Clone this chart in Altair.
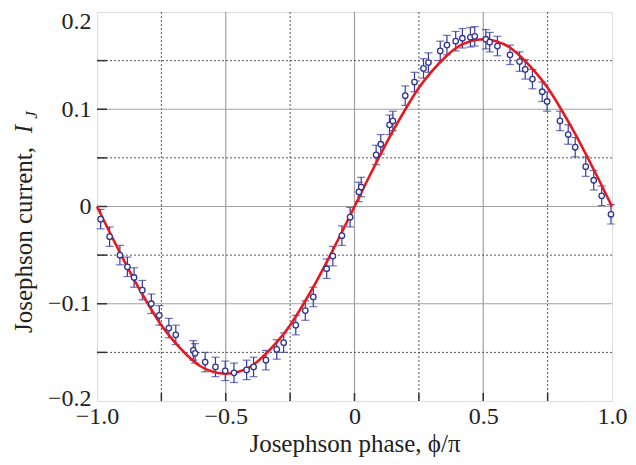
import altair as alt
import pandas as pd

# ---- data ----
phase = [-0.986, -0.951, -0.911, -0.882, -0.856, -0.824, -0.789, -0.758, -0.721, -0.694,
         -0.626, -0.619, -0.580, -0.540, -0.502, -0.468, -0.419, -0.392, -0.344, -0.302,
         -0.275, -0.228, -0.191, -0.160, -0.108, -0.084, -0.049, -0.017, 0.017, 0.026,
         0.084, 0.102, 0.136, 0.149, 0.197, 0.233, 0.268, 0.287, 0.333, 0.359,
         0.393, 0.419, 0.450, 0.467, 0.510, 0.525, 0.555, 0.604, 0.641, 0.663,
         0.691, 0.729, 0.748, 0.798, 0.830, 0.857, 0.898, 0.929, 0.960, 0.996]
current = [-0.013, -0.031, -0.050, -0.062, -0.073, -0.086, -0.100, -0.112, -0.125, -0.132,
           -0.148, -0.151, -0.160, -0.165, -0.169, -0.171, -0.168, -0.165, -0.158, -0.147,
           -0.140, -0.122, -0.107, -0.093, -0.064, -0.051, -0.030, -0.011, 0.015, 0.020,
           0.053, 0.064, 0.084, 0.088, 0.114, 0.128, 0.142, 0.148, 0.160, 0.166,
           0.170, 0.173, 0.174, 0.175, 0.172, 0.169, 0.165, 0.156, 0.149, 0.141,
           0.131, 0.118, 0.108, 0.088, 0.074, 0.061, 0.041, 0.027, 0.011, -0.008]
error = [0.010] * len(phase)

fit_phase = [-1.0, -0.95, -0.9, -0.85, -0.8, -0.75, -0.7, -0.65, -0.6, -0.55, -0.5,
             -0.45, -0.4, -0.35, -0.3, -0.25, -0.2, -0.15, -0.1, -0.05, 0.0,
             0.05, 0.1, 0.15, 0.2, 0.25, 0.3, 0.35, 0.4, 0.45, 0.5,
             0.55, 0.6, 0.65, 0.7, 0.75, 0.8, 0.85, 0.9, 0.95, 1.0]
fit_current = [0.0, -0.027, -0.053, -0.078, -0.101, -0.122, -0.139, -0.153, -0.164, -0.170, -0.172,
               -0.170, -0.164, -0.153, -0.139, -0.122, -0.101, -0.078, -0.053, -0.027, 0.0,
               0.027, 0.053, 0.078, 0.101, 0.122, 0.139, 0.153, 0.164, 0.170, 0.172,
               0.170, 0.164, 0.153, 0.139, 0.122, 0.101, 0.078, 0.053, 0.027, 0.0]

x_major = [-1.0, -0.5, 0.0, 0.5, 1.0]
x_minor = [-0.75, -0.25, 0.25, 0.75]
y_major = [-0.2, -0.1, 0.0, 0.1, 0.2]
y_minor = [-0.15, -0.05, 0.05, 0.15]

pts = pd.DataFrame({"phase": phase, "current": current})
pts["lo"] = [c - e for c, e in zip(current, error)]
pts["hi"] = [c + e for c, e in zip(current, error)]
fit = pd.DataFrame({"phase": fit_phase, "current": fit_current})

FONT = "Liberation Serif"
W, H = 515, 389
LBL = "datum.value == 0 ? '0' : replace(format(datum.value, '.1f'), '-', '\u2013')"

xscale = alt.Scale(domain=[-1, 1], nice=False, zero=False)
yscale = alt.Scale(domain=[-0.2, 0.2], nice=False, zero=False)

xaxis = alt.Axis(values=x_major, grid=False, ticks=False, domain=False, labelFlush=False,
                 title="Josephson phase, \u03d5/\u03c0", titleFont=FONT, titleFontSize=25,
                 titleFontWeight="normal", titleColor="#222", titlePadding=3,
                 labelFont=FONT, labelFontSize=24, labelColor="#222", labelPadding=3,
                 labelExpr=LBL)
yaxis = alt.Axis(values=y_major, grid=False, ticks=False, domain=False, title="",
                 labelFlush=False, labelFont=FONT, labelFontSize=24, labelColor="#222",
                 labelPadding=6, labelBaseline="middle",
                 labelOffset={"condition": [{"test": "datum.value > 0.15", "value": 9},
                                            {"test": "datum.value < -0.15", "value": -3}],
                              "value": 0},
                 labelExpr=LBL)


def X(field):
    return alt.X(field, type="quantitative", scale=xscale, axis=xaxis)


def Y(field):
    return alt.Y(field, type="quantitative", scale=yscale, axis=yaxis)


gx_major = alt.Chart(pd.DataFrame({"gx": x_major[1:-1]})).mark_rule(
    color="#a0a0a0", strokeWidth=1.2).encode(x=X("gx"))
gx_minor = alt.Chart(pd.DataFrame({"gx": x_minor})).mark_rule(
    color="#555", strokeWidth=1, strokeDash=[2, 2]).encode(x=X("gx"))
gy_major = alt.Chart(pd.DataFrame({"gy": y_major[1:-1]})).mark_rule(
    color="#a0a0a0", strokeWidth=1.2).encode(y=Y("gy"))
gy_minor = alt.Chart(pd.DataFrame({"gy": y_minor})).mark_rule(
    color="#555", strokeWidth=1, strokeDash=[2, 2]).encode(y=Y("gy"))

tick_x = alt.Chart(pd.DataFrame({"tx": x_major[1:-1] + x_minor})).mark_rule(
    color="#333", strokeWidth=1.5).encode(x=X("tx"), y=alt.value(H), y2=alt.value(H - 8))
tick_y = alt.Chart(pd.DataFrame({"ty": y_major[1:-1] + y_minor})).mark_rule(
    color="#333", strokeWidth=1.5).encode(y=Y("ty"), x=alt.value(0), x2=alt.value(10))

errbars = alt.Chart(pts).mark_errorbar(ticks=alt.TickConfig(size=8, thickness=1.2),
                                       color="#33399a", thickness=1.2).encode(
    x=X("phase"), y=Y("lo"), y2="hi")
points = alt.Chart(pts).mark_point(shape="circle", filled=False, color="#2f3590",
                                   fill="white", fillOpacity=1, size=30, strokeWidth=1.3,
                                   opacity=1).encode(x=X("phase"), y=Y("current"))
line = alt.Chart(fit).mark_line(color="#e8191e", strokeWidth=2.6,
                                interpolate="natural").encode(x=X("phase"), y=Y("current"))

ttl1 = alt.Chart(pd.DataFrame({"t": ["Josephson current,"]})).mark_text(
    angle=270, font=FONT, fontSize=25, align="center", baseline="middle", color="#222").encode(
    x=alt.value(-73), y=alt.value(228), text="t:N")
ttl2 = alt.Chart(pd.DataFrame({"t": ["I"]})).mark_text(
    angle=270, font=FONT, fontSize=25, fontStyle="italic", align="center", baseline="middle",
    color="#222").encode(x=alt.value(-73), y=alt.value(117), text="t:N")
ttl3 = alt.Chart(pd.DataFrame({"t": ["J"]})).mark_text(
    angle=270, font=FONT, fontSize=17, fontStyle="italic", align="center", baseline="middle",
    color="#222").encode(x=alt.value(-65), y=alt.value(103), text="t:N")

chart = alt.layer(
    gx_major, gx_minor, gy_major, gy_minor, tick_x, tick_y,
    errbars, line, points, ttl1, ttl2, ttl3
).properties(
    width=W, height=H,
    autosize=alt.AutoSizeParams(type="none"),
    padding={"left": 89, "top": 4, "right": 16, "bottom": 56},
).configure_view(
    stroke="#444", strokeWidth=2
).configure(background="white")

chart.save("out.html", embed_options={"renderer": "svg", "actions": False})
